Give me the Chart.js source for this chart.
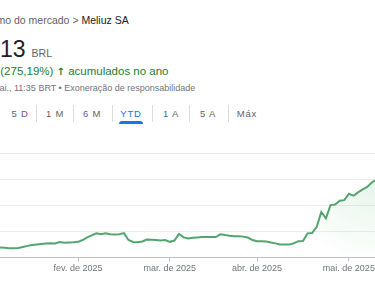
<!DOCTYPE html>
<html lang="pt-BR">
<head>
<meta charset="utf-8">
<script src="https://cdn.jsdelivr.net/npm/chart.js@4.4.1/dist/chart.umd.min.js"></script>
<style>
body{margin:0;width:375px;height:281px;overflow:hidden;position:relative;background:#fff;font-family:"Liberation Sans",Arial,sans-serif}
.abs{position:absolute;white-space:nowrap}
.crumb{left:-28px;top:14px;font-size:10.5px;line-height:12px;color:#5f6368}
.crumb b{font-weight:normal;color:#202124}
.price{left:-32px;top:37px;line-height:24px;color:#202124}
.price .big{font-size:23px}
.price .cur{font-size:10.5px;color:#5f6368;margin-left:6px}
.chg{left:-32px;top:64px;font-size:11.5px;line-height:14px;color:#188038}
.chg .arr{font-weight:bold;font-family:"DejaVu Sans",sans-serif;font-size:10px}
.when{left:-33px;top:83px;font-size:9px;line-height:11px;color:#70757a}
.tab{top:108px;font-size:9.5px;line-height:12px;color:#5f6368;letter-spacing:.8px;transform:translateX(-50%)}
.tab.on{color:#1a73e8}
.sep{top:105px;width:1px;height:17px;background:#dadce0}
.bar{left:119px;top:121px;width:24px;height:3px;border-radius:3px 3px 0 0;background:#1a73e8}
canvas{position:absolute;left:-23px;top:145px}
</style>
</head>
<body>
<div class="abs crumb">Resumo do mercado &gt; <b>Meliuz SA</b></div>
<div class="abs price"><span class="big">10,13</span><span class="cur">BRL</span></div>
<div class="abs chg">+7,43 (275,19%) <span class="arr">↑</span> acumulados no ano</div>
<div class="abs when">13 de mai., 11:35 BRT • Exoneração de responsabilidade</div>

<div class="abs tab" style="left:20px">5 D</div>
<div class="abs sep" style="left:36px"></div>
<div class="abs tab" style="left:55px">1 M</div>
<div class="abs sep" style="left:73px"></div>
<div class="abs tab" style="left:92px">6 M</div>
<div class="abs sep" style="left:112px"></div>
<div class="abs tab on" style="left:131px">YTD</div>
<div class="abs bar"></div>
<div class="abs sep" style="left:152px"></div>
<div class="abs tab" style="left:171px">1 A</div>
<div class="abs sep" style="left:189px"></div>
<div class="abs tab" style="left:208px">5 A</div>
<div class="abs sep" style="left:228px"></div>
<div class="abs tab" style="left:247px">Máx</div>

<canvas id="chart" width="404" height="136"></canvas>

<script>
// pregões de 2025 (B3)
const dates = [
  "02/01","03/01","06/01","07/01","08/01","09/01","10/01","13/01","14/01","15/01","16/01",
  "17/01","20/01","21/01","22/01","23/01","24/01","27/01","28/01","29/01","30/01","31/01",
  "03/02","04/02","05/02","06/02","07/02","10/02","11/02","12/02","13/02","14/02",
  "17/02","18/02","19/02","20/02","21/02","24/02","25/02","26/02","27/02","28/02",
  "05/03","06/03","07/03","10/03","11/03","12/03","13/03","14/03","17/03","18/03",
  "19/03","20/03","21/03","24/03","25/03","26/03","27/03","28/03","31/03",
  "01/04","02/04","03/04","04/04","07/04","08/04","09/04","10/04","11/04","14/04",
  "15/04","16/04","17/04","22/04","23/04","24/04","25/04","28/04","29/04","30/04",
  "02/05","05/05","06/05","07/05","08/05","09/05","12/05","13/05"
];
const prices = [
  2.79, 2.79, 2.79, 2.77, 2.76, 2.75, 2.72, 2.68, 2.68, 2.70, 2.79,
  2.87, 2.94, 2.98, 3.02, 3.06, 3.07, 3.06, 3.17, 3.11, 3.13, 3.15,
  3.18, 3.32, 3.53, 3.68, 3.83, 3.77, 3.84, 3.77, 3.74, 3.77,
  3.85, 3.32, 3.17, 3.15, 3.21, 3.36, 3.34, 3.32, 3.28, 3.32,
  3.18, 3.28, 3.79, 3.52, 3.43, 3.49, 3.52, 3.55, 3.55, 3.55,
  3.55, 3.76, 3.70, 3.65, 3.61, 3.60, 3.58, 3.51, 3.32,
  3.23, 3.22, 3.21, 3.13, 3.06, 2.98, 2.98, 2.98, 3.06, 3.23,
  3.25, 3.83, 3.85, 4.34, 5.47, 4.98, 6.00, 6.04, 6.34, 6.38,
  6.87, 6.72, 6.98, 7.21, 7.40, 7.74, 7.96, 8.19
];
const tickDates = ["03/02", "05/03", "01/04", "02/05"];
const tickLabels = ["fev. de 2025", "mar. de 2025", "abr. de 2025", "mai. de 2025"];

const ctx = document.getElementById("chart").getContext("2d");

new Chart(ctx, {
  type: "line",
  data: {
    labels: dates,
    datasets: [{
      data: prices,
      borderColor: "#52a56f",
      borderWidth: 2,
      pointRadius: 0,
      tension: 0,
      fill: "start",
      backgroundColor: c => {
        const a = c.chart.chartArea;
        if (!a) return "transparent";
        const g = c.chart.ctx.createRadialGradient(a.right, a.top, 0, a.right, a.top, 115);
        g.addColorStop(0, "rgba(52,168,83,0.16)");
        g.addColorStop(1, "rgba(52,168,83,0)");
        return g;
      }
    }]
  },
  options: {
    responsive: false,
    animation: false,
    layout: { padding: { top: 8, bottom: 5, left: 0, right: 0 } },
    plugins: { legend: { display: false }, tooltip: { enabled: false } },
    scales: {
      x: {
        type: "category",
        ticks: {
          autoSkip: false,
          maxRotation: 0,
          padding: 2,
          color: "#70757a",
          font: { size: 9, family: "'Liberation Sans', Arial" },
          callback: (v, i) => {
            const k = tickDates.indexOf(dates[i]);
            return k < 0 ? null : tickLabels[k];
          }
        },
        grid: { drawOnChartArea: false, drawTicks: true, tickLength: 4, color: "#bdc1c6" },
        border: { color: "#bdc1c6" }
      },
      y: {
        min: 2,
        max: 10,
        ticks: { stepSize: 2, display: false },
        grid: { color: "#ececec", drawTicks: false },
        border: { display: false },
        afterFit: s => { s.width = 0; }
      }
    }
  }
});
</script>
</body>
</html>
